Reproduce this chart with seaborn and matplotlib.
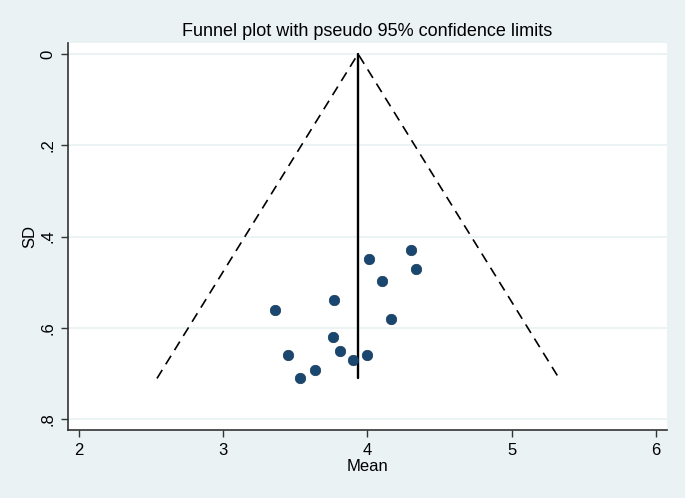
import matplotlib
matplotlib.use("Agg")
import matplotlib.pyplot as plt
import seaborn as sns
import numpy as np
import pandas as pd

mean_vals = [3.36, 3.45, 3.53, 3.64, 3.76, 3.77, 3.81, 3.90, 4.00, 4.01, 4.10, 4.16, 4.30, 4.34]
sd_vals = [0.560, 0.660, 0.711, 0.693, 0.621, 0.540, 0.651, 0.671, 0.660, 0.450, 0.498, 0.580, 0.430, 0.471]
pooled_mean = 3.935
x_ticks = [2, 3, 4, 5, 6]
y_ticks = [0, 0.2, 0.4, 0.6, 0.8]
y_tick_labels = ["0", ".2", ".4", ".6", ".8"]

df = pd.DataFrame({"Mean": mean_vals, "SD": sd_vals})

sns.set_theme(style="white")
plt.rcParams['font.family'] = ['Liberation Sans', 'DejaVu Sans']
plt.rcParams['text.color'] = 'black'
plt.rcParams['axes.labelcolor'] = 'black'
plt.rcParams['xtick.color'] = 'black'
plt.rcParams['ytick.color'] = 'black'

bg = "#eaf2f3"
fig = plt.figure(figsize=(6.85, 4.98), dpi=100, facecolor=bg)
ax = fig.add_axes([0.0993, 0.1365, 0.8744, 0.7772])
ax.set_facecolor("white")

for yt in y_ticks:
    ax.axhline(yt, color=bg, lw=1.3, zorder=0)

sdmax = max(sd_vals)
ax.plot([pooled_mean - 1.96 * sdmax, pooled_mean, pooled_mean + 1.96 * sdmax],
        [sdmax, 0, sdmax], color="black", lw=1.2, ls=(0, (6, 4)), zorder=2)
ax.plot([pooled_mean, pooled_mean], [sdmax, 0], color="black", lw=1.7, zorder=2)

sns.scatterplot(data=df, x="Mean", y="SD", ax=ax, color="#1a476f", s=58,
                edgecolor="#0f2f4f", linewidth=0.4, zorder=3)

ax.set_xlim(1.925, 6.076)
ax.set_ylim(0.824, -0.024)
ax.set_xticks(x_ticks)
ax.set_xticklabels([str(t) for t in x_ticks], fontsize=12)
ax.set_yticks(y_ticks)
ax.set_yticklabels(y_tick_labels, fontsize=12, rotation=90, va="center")
ax.tick_params(axis="both", direction="out", length=5, width=1, color="#333333",
               left=True, bottom=True, pad=4)
ax.set_xlabel("Mean", fontsize=12, labelpad=1)
ax.set_ylabel("SD", fontsize=12, labelpad=2)
ax.set_title("Funnel plot with pseudo 95% confidence limits", fontsize=13, pad=5)

for side in ["top", "right"]:
    ax.spines[side].set_visible(False)
for side in ["left", "bottom"]:
    ax.spines[side].set_color("#333333")
    ax.spines[side].set_linewidth(1.2)

fig.savefig("out.png", dpi=100, facecolor=bg)
